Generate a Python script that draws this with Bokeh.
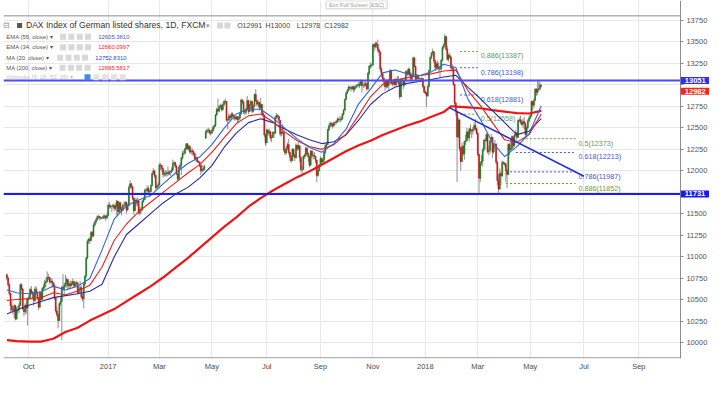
import pandas as pd
from bokeh.plotting import figure
from bokeh.models import ColumnDataSource, FixedTicker, Label, BoxAnnotation
from bokeh.core.properties import value
from bokeh.embed import file_html
from bokeh.resources import INLINE

FONT = "Liberation Sans"

# ---------------- data (daily bars, FXCM GER30 / DAX) ----------------
first_day = "2016-09-07"

opens = [
 10790, 10752, 10675,
 10573, 10432, 10386, 10379, 10431,
 10276, 10373, 10393, 10436, 10674,
 10627, 10394, 10361, 10438, 10405,
 10511, 10530, 10619, 10585, 10568,
 10490, 10624, 10577, 10523, 10414,
 10580, 10504, 10631, 10645, 10701,
 10711, 10761, 10757, 10709, 10717,
 10696, 10665, 10526, 10370, 10325,
 10259, 10456, 10482, 10646, 10630,
 10668, 10693, 10735, 10663, 10686,
 10665, 10685, 10713, 10662, 10690,
 10699, 10582, 10620, 10640, 10534,
 10513, 10684, 10776, 10986, 11180,
 11203, 11190, 11284, 11244, 11366,
 11404, 11427, 11464, 11468, 11456,
 11449, 11450, 11472, 11474, 11451,
 11481, 11599, 11585, 11584, 11585,
 11599, 11563, 11583, 11646, 11521,
 11629, 11555, 11540, 11599, 11599,
 11630, 11545, 11594, 11806, 11848,
 11814, 11681, 11535, 11659, 11627,
 11651, 11509, 11549, 11543, 11643,
 11666, 11774, 11771, 11793, 11757,
 11757, 11827, 11967, 11998, 11947,
 11804, 11822, 11834, 12067, 12060,
 12027, 11958, 11967, 11967, 11978,
 11963, 11990, 11988, 12009, 12083,
 12095, 12052, 11962, 11904, 12040,
 12064, 12149, 12203, 12204, 12257,
 12313, 12257, 12282, 12217, 12230,
 12225, 12200, 12139, 12154, 12109,
 12100, 12060, 12000, 12016, 12027,
 12380, 12455, 12467, 12472, 12443,
 12438, 12470, 12507, 12527, 12648,
 12716, 12694, 12749, 12757, 12711,
 12770, 12807, 12805, 12589, 12590,
 12638, 12619, 12659, 12642, 12621,
 12602, 12629, 12599, 12615, 12664,
 12822, 12800, 12690, 12679, 12714,
 12816, 12690, 12765, 12806, 12692,
 12752, 12888, 12814, 12774, 12794,
 12733, 12771, 12671, 12647, 12416,
 12325, 12475, 12437, 12453, 12381,
 12389, 12445, 12437, 12627, 12641,
 12632, 12587, 12430, 12452, 12447,
 12240, 12208, 12264, 12305, 12212,
 12163, 12118, 12251, 12181, 12154,
 12298, 12257, 12292, 12154, 12014,
 12014, 12165, 12178, 12263, 12203,
 12165, 12065, 12229, 12174, 12180,
 12168, 12123, 11946, 12002, 12056,
 12142, 12102, 12124, 12215, 12297,
 12304, 12476, 12524, 12553, 12540,
 12519, 12559, 12561, 12569, 12600,
 12592, 12594, 12605, 12657, 12704,
 12829, 12902, 12930, 12970, 12968,
 12955, 12976, 12949, 12970, 12982,
 12991, 13003, 12995, 13043, 12990,
 12991, 13003, 13013, 12953, 13133,
 13217, 13229, 13229, 13465, 13440,
 13478, 13468, 13406, 13382, 13183,
 13127, 13074, 13033, 12976, 13047,
 12993, 13059, 13168, 13015, 13008,
 13060, 13000, 13060, 13061, 13024,
 12861, 13058, 13048, 12998, 13045,
 13153, 13123, 13183, 13126, 13069,
 13104, 13312, 13215, 13069, 13110,
 13073, 13070, 13070, 13071, 12979,
 12917, 12900, 12871, 12978, 13167,
 13319, 13367, 13385, 13281, 13202,
 13245, 13201, 13183, 13184, 13282,
 13434, 13463, 13559, 13414, 13298,
 13340, 13324, 13197, 13189, 13004,
 12785, 12687, 12392, 12590, 12260,
 12107, 12282, 12196, 12339, 12346,
 12452, 12385, 12487, 12470, 12461,
 12483, 12527, 12490, 12435, 12190,
 11913, 12090, 12113, 12245, 12355,
 12346, 12418, 12221, 12237, 12345,
 12389, 12217, 12307, 12309, 12100,
 11886, 11787, 11970, 11940, 12096,
 12090, 12080, 12002, 11957, 12305,
 12241, 12261, 12397, 12293, 12415,
 12442, 12391, 12585, 12590, 12567,
 12540, 12572, 12550, 12422, 12500,
 12580, 12612, 12640, 12802, 12763,
 12820, 12948, 12912, 12943, 12956,
 12991]

highs = [
 10805, 10775, 10690,
 10580, 10480, 10420, 10450, 10440,
 10420, 10430, 10470, 10690, 10690,
 10630, 10420, 10460, 10510, 10530,
 10560, 10640, 10660, 10600, 10600,
 10650, 10660, 10590, 10530, 10600,
 10590, 10650, 10680, 10730, 10750,
 10830, 10800, 10770, 10760, 10750,
 10710, 10690, 10530, 10420, 10340,
 10470, 10530, 10660, 10800, 10700,
 10790, 10760, 10740, 10700, 10720,
 10720, 10750, 10720, 10710, 10720,
 10700, 10660, 10720, 10660, 10570,
 10700, 10790, 11000, 11200, 11220,
 11230, 11300, 11300, 11390, 11420,
 11450, 11480, 11490, 11470, 11470,
 11460, 11490, 11490, 11480, 11500,
 11620, 11640, 11610, 11600, 11620,
 11600, 11620, 11660, 11650, 11640,
 11630, 11580, 11610, 11640, 11650,
 11640, 11610, 11830, 11890, 11860,
 11820, 11690, 11690, 11680, 11690,
 11660, 11580, 11580, 11660, 11690,
 11790, 11800, 11830, 11820, 11780,
 11840, 11980, 12030, 12010, 11950,
 11850, 11870, 12090, 12090, 12070,
 12030, 12000, 12010, 12000, 12050,
 12010, 12000, 12040, 12130, 12110,
 12100, 12070, 11970, 12060, 12090,
 12160, 12230, 12240, 12270, 12320,
 12320, 12300, 12300, 12260, 12260,
 12240, 12210, 12170, 12160, 12120,
 12110, 12070, 12070, 12060, 12070,
 12470, 12490, 12500, 12490, 12470,
 12490, 12520, 12540, 12660, 12730,
 12840, 12760, 12780, 12770, 12790,
 12820, 12840, 12810, 12620, 12670,
 12650, 12680, 12680, 12660, 12640,
 12640, 12630, 12640, 12680, 12840,
 12830, 12810, 12720, 12740, 12870,
 12820, 12780, 12830, 12810, 12770,
 12900, 12950, 12830, 12820, 12800,
 12850, 12780, 12680, 12650, 12430,
 12490, 12480, 12490, 12460, 12420,
 12460, 12460, 12640, 12670, 12660,
 12640, 12590, 12470, 12540, 12450,
 12260, 12290, 12330, 12370, 12220,
 12180, 12260, 12260, 12200, 12320,
 12300, 12330, 12290, 12170, 12060,
 12180, 12200, 12280, 12270, 12210,
 12170, 12240, 12240, 12210, 12220,
 12170, 12130, 12030, 12080, 12170,
 12150, 12160, 12230, 12310, 12330,
 12490, 12540, 12570, 12560, 12560,
 12570, 12580, 12590, 12620, 12620,
 12640, 12630, 12670, 12720, 12840,
 12920, 12950, 12990, 12990, 12980,
 12990, 12990, 12990, 13000, 13010,
 13030, 13030, 13060, 13050, 13030,
 13030, 13040, 13020, 13150, 13230,
 13260, 13250, 13480, 13480, 13500,
 13500, 13525, 13420, 13390, 13200,
 13140, 13090, 13040, 13070, 13060,
 13070, 13180, 13170, 13040, 13070,
 13070, 13080, 13100, 13100, 13040,
 13080, 13080, 13050, 13070, 13170,
 13170, 13200, 13190, 13150, 13130,
 13330, 13320, 13220, 13130, 13120,
 13080, 13080, 13090, 13080, 12990,
 12930, 12920, 13000, 13180, 13330,
 13380, 13420, 13390, 13290, 13260,
 13280, 13260, 13210, 13300, 13450,
 13480, 13590, 13570, 13450, 13360,
 13370, 13330, 13240, 13210, 13010,
 12800, 12700, 12620, 12600, 12280,
 12330, 12300, 12350, 12420, 12500,
 12460, 12500, 12540, 12480, 12510,
 12560, 12600, 12500, 12450, 12200,
 12110, 12180, 12260, 12370, 12380,
 12440, 12430, 12290, 12360, 12430,
 12390, 12320, 12360, 12320, 12110,
 11960, 12030, 11990, 12120, 12110,
 12100, 12090, 12020, 12320, 12320,
 12360, 12410, 12400, 12430, 12480,
 12450, 12600, 12620, 12640, 12600,
 12600, 12630, 12560, 12520, 12600,
 12640, 12660, 12820, 12810, 12840,
 12960, 12960, 13040, 13051, 13030,
 13000]

lows = [
 10725, 10650, 10550,
 10350, 10370, 10330, 10290, 10260,
 10270, 10340, 10350, 10430, 10600,
 10380, 10310, 10330, 10340, 10200,
 10490, 10500, 10560, 10520, 10430,
 10480, 10560, 10500, 10380, 10410,
 10490, 10500, 10600, 10620, 10660,
 10700, 10730, 10680, 10690, 10640,
 10640, 10500, 10350, 10300, 10170,
 10250, 10430, 10030, 10600, 10560,
 10650, 10640, 10620, 10620, 10630,
 10660, 10670, 10640, 10650, 10670,
 10560, 10570, 10600, 10510, 10480,
 10400, 10660, 10760, 10970, 11150,
 11150, 11180, 11220, 11230, 11350,
 11380, 11420, 11440, 11430, 11430,
 11440, 11440, 11440, 11420, 11440,
 11470, 11560, 11560, 11520, 11560,
 11530, 11540, 11480, 11480, 11510,
 11520, 11480, 11530, 11560, 11580,
 11500, 11530, 11590, 11790, 11790,
 11660, 11490, 11530, 11590, 11590,
 11490, 11480, 11500, 11530, 11630,
 11660, 11740, 11740, 11730, 11690,
 11750, 11820, 11950, 11920, 11780,
 11780, 11800, 11830, 12010, 11990,
 11920, 11930, 11940, 11930, 11940,
 11950, 11940, 11970, 12000, 12060,
 12030, 11950, 11880, 11900, 12020,
 11950, 12130, 12180, 12190, 12240,
 12240, 12230, 12200, 12190, 12180,
 12170, 12120, 12100, 12090, 12090,
 12040, 11950, 11980, 11990, 12000,
 12370, 12430, 12440, 12420, 12410,
 12430, 12450, 12480, 12510, 12640,
 12680, 12680, 12720, 12690, 12700,
 12750, 12780, 12570, 12480, 12580,
 12580, 12600, 12620, 12590, 12580,
 12590, 12560, 12570, 12590, 12650,
 12770, 12660, 12650, 12650, 12700,
 12660, 12680, 12720, 12670, 12680,
 12740, 12800, 12750, 12740, 12700,
 12720, 12650, 12590, 12390, 12290,
 12320, 12400, 12410, 12350, 12330,
 12380, 12380, 12430, 12600, 12600,
 12560, 12400, 12400, 12420, 12220,
 12180, 12190, 12240, 12190, 12110,
 12090, 12110, 12160, 12110, 12140,
 12230, 12240, 12100, 11990, 11935,
 12010, 12140, 12160, 12180, 12100,
 12040, 12060, 12150, 12130, 12140,
 12090, 11870, 11930, 11990, 12050,
 12080, 12080, 12100, 12190, 12270,
 12300, 12460, 12500, 12510, 12490,
 12520, 12530, 12540, 12560, 12570,
 12560, 12570, 12590, 12640, 12700,
 12820, 12890, 12920, 12940, 12920,
 12940, 12910, 12920, 12950, 12960,
 12980, 12960, 12990, 12910, 12960,
 12970, 12980, 12930, 12940, 13110,
 13190, 13200, 13220, 13390, 13420,
 13430, 13380, 13340, 13150, 13090,
 13040, 12980, 12930, 12960, 12960,
 12940, 13050, 13000, 12980, 13000,
 12980, 12990, 13020, 12990, 12830,
 12860, 13010, 12950, 12980, 13040,
 13100, 13110, 13100, 13040, 13040,
 13100, 13200, 13050, 13050, 13060,
 13060, 13060, 13040, 12960, 12900,
 12890, 12740, 12860, 12970, 13150,
 13300, 13340, 13250, 13160, 13170,
 13180, 13150, 13090, 13170, 13270,
 13410, 13440, 13390, 13280, 13270,
 13300, 13160, 13150, 12990, 12750,
 12640, 11870, 12380, 12230, 12000,
 12100, 12170, 12130, 12300, 12340,
 12360, 12340, 12430, 12380, 12420,
 12470, 12460, 12420, 12170, 11735,
 11870, 12060, 12050, 12220, 12250,
 12340, 12200, 12180, 12200, 12320,
 12150, 12200, 12260, 12080, 11830,
 11727, 11780, 11830, 11930, 12070,
 12050, 11870, 11800, 11950, 12180,
 12230, 12250, 12250, 12280, 12400,
 12350, 12380, 12560, 12540, 12520,
 12500, 12480, 12380, 12400, 12480,
 12560, 12600, 12630, 12700, 12730,
 12810, 12870, 12880, 12920, 12940,
 12978]

closes = [
 10752, 10675, 10573,
 10432, 10386, 10379, 10431, 10276,
 10373, 10393, 10436, 10674, 10627,
 10394, 10361, 10438, 10405, 10511,
 10530, 10619, 10585, 10568, 10490,
 10624, 10577, 10523, 10414, 10580,
 10504, 10631, 10645, 10701, 10711,
 10761, 10757, 10709, 10717, 10696,
 10665, 10526, 10370, 10325, 10259,
 10456, 10482, 10646, 10630, 10668,
 10693, 10735, 10663, 10686, 10665,
 10685, 10713, 10662, 10690, 10699,
 10582, 10620, 10640, 10534, 10513,
 10684, 10776, 10986, 11180, 11203,
 11190, 11284, 11244, 11366, 11404,
 11427, 11464, 11468, 11456, 11449,
 11450, 11472, 11474, 11451, 11481,
 11599, 11585, 11584, 11585, 11599,
 11563, 11583, 11646, 11521, 11629,
 11555, 11540, 11599, 11599, 11630,
 11545, 11594, 11806, 11848, 11814,
 11681, 11535, 11659, 11627, 11651,
 11509, 11549, 11543, 11643, 11666,
 11774, 11771, 11793, 11757, 11757,
 11827, 11967, 11998, 11947, 11804,
 11822, 11834, 12067, 12060, 12027,
 11958, 11967, 11967, 11978, 11963,
 11990, 11988, 12009, 12083, 12095,
 12052, 11962, 11904, 12040, 12064,
 12149, 12203, 12204, 12257, 12313,
 12257, 12282, 12217, 12230, 12225,
 12200, 12139, 12154, 12109, 12100,
 12060, 12000, 12016, 12027, 12048,
 12455, 12467, 12472, 12443, 12438,
 12470, 12507, 12527, 12648, 12716,
 12694, 12749, 12757, 12711, 12770,
 12807, 12805, 12589, 12590, 12638,
 12619, 12659, 12642, 12621, 12602,
 12629, 12599, 12615, 12664, 12822,
 12800, 12690, 12679, 12714, 12816,
 12690, 12765, 12806, 12692, 12752,
 12888, 12814, 12774, 12794, 12733,
 12771, 12671, 12647, 12416, 12325,
 12475, 12437, 12453, 12381, 12389,
 12445, 12437, 12627, 12641, 12632,
 12587, 12430, 12452, 12447, 12240,
 12208, 12264, 12305, 12212, 12163,
 12118, 12251, 12181, 12154, 12298,
 12257, 12292, 12154, 12014, 12014,
 12165, 12178, 12263, 12203, 12165,
 12065, 12229, 12174, 12180, 12168,
 12123, 11946, 12002, 12056, 12142,
 12102, 12124, 12215, 12297, 12304,
 12476, 12524, 12553, 12540, 12519,
 12559, 12561, 12569, 12600, 12592,
 12594, 12605, 12657, 12704, 12829,
 12902, 12930, 12970, 12968, 12955,
 12976, 12949, 12970, 12982, 12991,
 13003, 12995, 13043, 12990, 12991,
 13003, 13013, 12953, 13133, 13217,
 13229, 13229, 13465, 13440, 13478,
 13468, 13406, 13382, 13183, 13127,
 13074, 13033, 12976, 13047, 12993,
 13059, 13168, 13015, 13008, 13060,
 13000, 13060, 13061, 13024, 12861,
 13058, 13048, 12998, 13045, 13153,
 13123, 13183, 13126, 13069, 13104,
 13312, 13215, 13069, 13110, 13073,
 13070, 13070, 13071, 12979, 12917,
 12900, 12871, 12978, 13167, 13319,
 13367, 13385, 13281, 13202, 13245,
 13201, 13183, 13184, 13282, 13434,
 13463, 13559, 13414, 13298, 13340,
 13324, 13197, 13189, 13004, 12785,
 12687, 12392, 12590, 12260, 12107,
 12282, 12196, 12339, 12346, 12452,
 12385, 12487, 12470, 12461, 12483,
 12527, 12490, 12435, 12190, 11913,
 12090, 12113, 12245, 12355, 12346,
 12418, 12221, 12237, 12345, 12389,
 12217, 12307, 12309, 12100, 11886,
 11787, 11970, 11940, 12096, 12090,
 12080, 12002, 11957, 12305, 12241,
 12261, 12397, 12293, 12415, 12442,
 12391, 12585, 12590, 12567, 12540,
 12572, 12550, 12422, 12500, 12580,
 12612, 12640, 12802, 12763, 12820,
 12948, 12912, 12943, 12956, 13001,
 12982]

# month ticks on the time axis
tick_months = ["2016-10", "2017-01", "2017-03", "2017-05", "2017-07", "2017-09",
               "2017-11", "2018-01", "2018-03", "2018-05", "2018-07", "2018-09"]
tick_labels = ["Oct", "2017", "Mar", "May", "Jul", "Sep",
               "Nov", "2018", "Mar", "May", "Jul", "Sep"]
price_ticks = [10000, 10250, 10500, 10750, 11000, 11250, 11500, 11750,
               12000, 12250, 12500, 12750, 13000, 13250, 13500, 13750]

# indicator lines (bar number, value)
ma_bar = [0, 8, 18, 28, 38, 48, 58, 68, 78, 88, 98, 108, 118, 128, 138, 148,
          158, 168, 178, 188, 198, 208, 218, 228, 238, 248, 258, 268, 278, 288,
          298, 308, 318, 328, 338, 348, 358, 368, 378, 388, 398, 408, 418, 428, 438]
ma20 = [10614, 10581, 10570, 10592, 10659, 10614, 10659, 10748, 11080, 11440,
        11593, 11660, 11715, 11848, 11971, 12082, 12160, 12304, 12493, 12660,
        12716, 12716, 12616, 12493, 12371, 12271, 12215, 12316, 12483, 12771,
        12949, 13138, 13172, 13127, 13105, 13150, 13238, 13200, 12830, 12600,
        12330, 12165, 12280, 12430, 12753]
ema34 = [10492, 10503, 10514, 10525, 10581, 10559, 10603, 10670, 10881, 11192,
         11381, 11526, 11637, 11749, 11860, 11971, 12071, 12215, 12382, 12549,
         12638, 12660, 12571, 12449, 12349, 12282, 12249, 12304, 12427, 12638,
         12860, 13005, 13049, 13083, 13105, 13127, 13160, 13170, 12930, 12760,
         12560, 12360, 12330, 12420, 12660]
ema55 = [10336, 10381, 10436, 10481, 10525, 10548, 10570, 10600, 10680, 11000,
         11259, 11381, 11504, 11626, 11726, 11804, 11915, 12060, 12271, 12438,
         12560, 12605, 12560, 12482, 12416, 12360, 12316, 12338, 12416, 12582,
         12771, 12894, 12972, 13016, 13038, 13061, 13090, 13110, 12970, 12840,
         12700, 12560, 12420, 12460, 12605]
ma200_bar = [0, 8, 18, 28, 38, 48, 58, 68, 78, 88, 98, 108, 118, 128, 138, 148,
             158, 168, 178, 188, 198, 208, 218, 228, 238, 248, 258, 268, 278, 288,
             298, 308, 318, 328, 338, 348, 358, 364, 368, 378, 388, 398, 408, 418,
             428, 438]
ma200 = [10030, 10019, 10014, 10014, 10047, 10125, 10175, 10258, 10325, 10392,
         10481, 10570, 10659, 10759, 10870, 10981, 11104, 11226, 11348, 11459,
         11582, 11682, 11771, 11849, 11926, 11993, 12071, 12149, 12227, 12293,
         12349, 12416, 12471, 12527, 12571, 12627, 12683, 12750, 12745, 12738,
         12727, 12705, 12688, 12671, 12666, 12696]

legend_names = ["EMA (55, close)", "EMA (34, close)", "MA (20, close)", "MA (200, close)"]
legend_last = [12605.3810, 12660.0997, 12752.8310, 12695.5817]

support_levels = [13051, 11731]
trend_bar = [363, 473]
trend_price = [12731, 11936]
fib_upper = [13387, 13198, 12881, 12658]
fib_upper_ratio = ["0.886", "0.786", "0.618", "0.5"]
fib_lower = [12373, 12213, 11987, 11852]
fib_lower_ratio = ["0.5", "0.618", "0.786", "0.886"]

# ---------------- layout helpers (reference pixel -> data) ----------------
def bx(px):
    return (px - 6.545) / 1.2475

def by(py):
    return 13750 - (py - 20.6) * 11.15

X0, X1, XR = bx(3.07), bx(695.3), bx(725)

all_days = pd.bdate_range(first_day, "2018-09-28")
months = all_days.strftime("%Y-%m")
tick_idx = [int((months == m).argmax()) for m in tick_months]

n = len(closes)
bar = list(range(n))
src = ColumnDataSource(dict(
    x=bar, o=opens, h=highs, l=lows, c=closes,
    top=[max(a, b) for a, b in zip(opens, closes)],
    bot=[min(a, b) for a, b in zip(opens, closes)],
    col=["#1f7a1f" if c >= o else "#cc1111" for o, c in zip(opens, closes)],
))

p = figure(width=709, height=377, x_range=(X0, XR),
           y_range=(by(373.3), by(0)), output_backend="svg",
           toolbar_location=None, y_axis_location="right",
           min_border_left=3, min_border_right=0, min_border_top=0,
           min_border_bottom=19)
p.outline_line_color = None
p.background_fill_color = "white"

# axes
p.xaxis.ticker = FixedTicker(ticks=tick_idx)
p.xaxis.major_label_overrides = {i: t for i, t in zip(tick_idx, tick_labels)}
p.xaxis.major_tick_out = 0
p.xaxis.major_tick_in = 0
p.xaxis.minor_tick_line_color = None
p.xaxis.axis_line_color = None
p.xaxis.major_label_standoff = 3
p.xaxis.major_label_text_font = FONT
p.xaxis.major_label_text_font_size = "7.5px"
p.xaxis.major_label_text_color = "#4d4d4d"

p.yaxis.fixed_location = X1
p.yaxis.ticker = FixedTicker(ticks=price_ticks)
p.yaxis.major_label_overrides = {13000: "", 11750: ""}
p.yaxis.major_tick_out = 3
p.yaxis.major_tick_in = 0
p.yaxis.major_tick_line_color = "#8c8c8c"
p.yaxis.minor_tick_line_color = None
p.yaxis.axis_line_color = "#8c8c8c"
p.yaxis.major_label_standoff = 3
p.yaxis.major_label_text_font = FONT
p.yaxis.major_label_text_font_size = "7.5px"
p.yaxis.major_label_text_color = "#555555"

p.xgrid.ticker = FixedTicker(ticks=tick_idx)
p.ygrid.ticker = FixedTicker(ticks=price_ticks)
p.xgrid.grid_line_color = "#e8e8e8"
p.ygrid.grid_line_color = "#e8e8e8"

# price-scale strip stays clean of grid lines
p.add_layout(BoxAnnotation(left=X1, fill_color="white", fill_alpha=1.0,
                           line_color=None, level="underlay"))

# pane separator on top and time-axis base line (end at the price scale)
p.segment(x0=[X0, X0], y0=[by(16), by(372.6)], x1=[X1, X1], y1=[by(16), by(372.6)],
          line_color="#8c8c8c", line_width=1)

# fibonacci markers
for lvl, r in zip(fib_upper, fib_upper_ratio):
    col = "#6f9a3f" if r in ("0.886", "0.5") else "#5050d4"
    p.line([bx(470), bx(488)], [lvl, lvl], line_color=col, line_dash="2 2", line_width=1)
    p.text(x=[bx(491)], y=[lvl], text=[f"{r}({lvl})"], text_font=value(FONT),
           text_font_size="7.2px", text_color=col, text_baseline="top")
fib_start = [533, 527, 517, 517]
for lvl, r, s in zip(fib_lower, fib_lower_ratio, fib_start):
    col = "#6f9a3f" if r in ("0.886", "0.5") else "#5050d4"
    p.line([bx(s), bx(588)], [lvl, lvl], line_color=col, line_dash="2 2", line_width=1)
    p.text(x=[bx(591)], y=[lvl], text=[f"{r}({lvl})"], text_font=value(FONT),
           text_font_size="7.2px", text_color=col, text_baseline="top")

# candles
p.segment(x0="x", y0="l", x1="x", y1="h", source=src, line_color="#8f8f8f", line_width=1)
p.vbar(x="x", top="top", bottom="bot", width=0.75, source=src,
       fill_color="col", line_color="col", line_width=0.6)

# indicators
p.line(ma200_bar, ma200, line_color="#f01414", line_width=2.2)
p.line(ma_bar, ema55, line_color="#2a2a9e", line_width=1.1)
p.line(ma_bar, ema34, line_color="#f01e1e", line_width=1.1)
p.line(ma_bar, ma20, line_color="#3166d6", line_width=1.1)

# drawings
p.segment(x0=[X0, X0], y0=support_levels, x1=[X1, X1], y1=support_levels,
          line_color=["#4b4bff", "#1c1cf0"], line_width=2)
p.line(trend_bar, trend_price, line_color="#1f2fdf", line_width=1.5)

# price boxes on the scale
for lvl, col, off in [(support_levels[0], "#2f2fff", 0), (closes[-1], "#ff2020", -5),
                      (support_levels[1], "#1a1aee", 0)]:
    p.add_layout(Label(x=X1 + 0.3, y=lvl, y_offset=off, text=str(lvl),
                       text_font=FONT, text_font_size="7.5px", text_font_style="bold",
                       text_color="white", text_baseline="middle", text_align="left",
                       background_fill_color=col, padding=(4, 1)))

# legend header
def txt(px, py, s, size, color, style="normal"):
    p.text(x=[bx(px)], y=[by(py)], text=[s], text_font=value(FONT), text_font_size=size,
           text_color=color, text_baseline="middle", text_align="left",
           text_font_style=style)

def icons(pxs, py, colors=None):
    colors = colors or ["#d8d8d8"] * len(pxs)
    p.scatter([bx(v) for v in pxs], [by(py)] * len(pxs), marker="square", size=6,
              fill_color=colors, line_color=None)

txt(3, 26, "\u229f", "8px", "#888888")
p.scatter([bx(19.5)], [by(26)], marker="square", size=5, fill_color="#555555", line_color=None)
txt(26, 26, "DAX Index of German listed shares, 1D, FXCM", "8.6px", "#333333")
txt(210, 26, "\u25be", "7px", "#999999")
icons([224.5, 232], 26)
txt(242, 26, f"O{opens[-1]}", "7px", "#444444")
txt(271, 26, f"H{highs[-1]}", "7px", "#444444")
txt(303, 26, f"L{lows[-1]}", "7px", "#444444")
txt(331, 26, f"C{closes[-1]}", "7px", "#444444")

rows_y = [37.7, 48.7, 59.7, 70]
icon_x = [[64, 72.5, 81, 89.5], [64, 72.5, 81, 89.5], [61, 69.5, 78, 86.5], [63.5, 72, 80.5, 89]]
val_x = [100, 100, 97, 100]
val_col = ["#5050c0", "#ff2020", "#2f45c0", "#ff2020"]
for name, v, ry, ix, vx, vc in zip(legend_names, legend_last, rows_y, icon_x, val_x, val_col):
    txt(6, ry, name + " \u25be", "5.9px", "#555555")
    icons(ix, ry)
    txt(vx, ry, f"{v:.4f}", "5.9px", vc)
txt(6, 80, "Ichimoku (9, 26, 52, 26) \u25be", "5.9px", "#c4c4c4")
icons([89, 98, 107, 116, 125], 80, ["#3d8fe0", "#e2e2e2", "#e2e2e2", "#e2e2e2", "#e2e2e2"])

p.add_layout(Label(x=bx(333), y=by(4.5), text="Exit Full Screen (ESC)", text_font=FONT,
                   text_font_size="5.5px", text_color="#9a9a9a", text_baseline="middle",
                   background_fill_color="white", border_line_color="#d0d0d0", padding=(3, 1)))

open("out.html", "w").write(file_html(p, INLINE))
